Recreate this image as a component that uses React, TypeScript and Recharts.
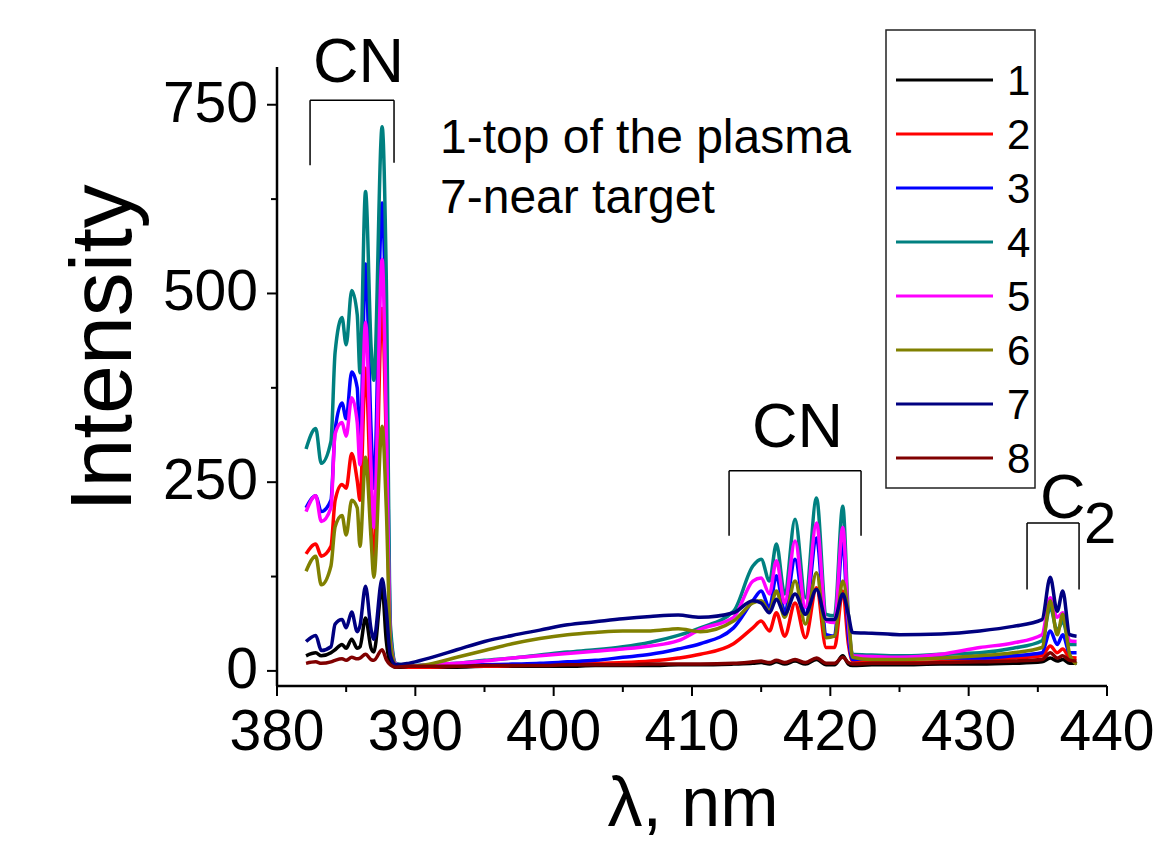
import React from 'react';
import { LineChart, Line, XAxis, YAxis, ReferenceLine } from 'recharts';

const FONT = '"Liberation Sans", Arial, Helvetica, sans-serif';

// wavelength grid, nm
const WL = [
  382.1, 382.8, 383.2, 383.9, 384.2, 384.7, 385.0, 385.4, 385.8, 386.0,
  386.4, 386.8, 387.0, 387.6, 387.9, 388.2, 388.6, 389.5, 391, 393,
  395, 397, 399, 401, 403, 405, 407, 409, 410.6, 413.0,
  414.4, 415.0, 415.6, 416.1, 416.7, 417.45, 418.2, 419.0, 419.7, 420.3,
  420.9, 421.3, 421.6, 423, 425, 428, 430.8, 433.2, 435.3, 435.9,
  436.4, 436.8, 437.3, 437.8,
];

const S1 = [
  20, 24, 20, 24, 28, 35, 30, 42, 30, 32,
  70, 30, 25, 110, 40, 10, 5, 5, 5, 5,
  6, 6, 6, 6, 7, 7, 7, 8, 8, 9,
  10, 11, 9, 12, 9, 13, 9, 15, 8, 8,
  20, 9, 7, 8, 8, 9, 9, 10, 12, 17,
  13, 15, 10, 10,
];
const S2 = [
  155, 168, 152, 165, 226, 247, 242, 288, 252, 226,
  401, 216, 139, 480, 300, 35, 8, 5, 5, 6,
  6, 7, 8, 9, 10, 11, 13, 17, 22, 36,
  57, 66, 53, 77, 46, 90, 44, 110, 31, 31,
  106, 36, 13, 12, 11, 12, 15, 17, 20, 33,
  24, 29, 18, 17,
];
const S3 = [
  216, 232, 211, 226, 319, 355, 334, 396, 375, 293,
  539, 319, 242, 620, 420, 50, 9, 6, 6, 7,
  8, 9, 10, 12, 14, 18, 22, 29, 36, 57,
  93, 106, 84, 126, 79, 148, 75, 176, 48, 46,
  172, 48, 15, 17, 18, 17, 17, 20, 24, 53,
  35, 48, 24, 24,
];
const S4 = [
  294, 321, 275, 304, 422, 468, 432, 504, 472, 395,
  635, 430, 385, 721, 520, 60, 10, 7, 8, 10,
  14, 17, 21, 25, 28, 32, 38, 47, 57, 79,
  139, 148, 119, 168, 102, 201, 97, 229, 75, 73,
  218, 75, 22, 21, 20, 22, 24, 30, 40, 84,
  53, 66, 35, 35,
];
const S5 = [
  211, 232, 198, 216, 314, 329, 311, 362, 329, 273,
  462, 268, 190, 545, 330, 40, 9, 6, 8, 10,
  13, 17, 20, 23, 26, 29, 33, 40, 55, 71,
  119, 123, 102, 146, 90, 172, 84, 196, 66, 64,
  190, 66, 20, 19, 18, 22, 31, 37, 48, 97,
  71, 77, 40, 39,
];
const S6 = [
  132, 152, 114, 139, 191, 206, 180, 226, 216, 165,
  283, 175, 124, 324, 216, 37, 8, 6, 9, 18,
  27, 36, 43, 48, 51, 53, 53, 56, 52, 66,
  90, 93, 79, 106, 71, 119, 62, 130, 44, 46,
  119, 75, 18, 15, 15, 17, 20, 24, 31, 93,
  48, 75, 22, 9,
];
const S7 = [
  39, 47, 27, 32, 62, 68, 57, 78, 52, 60,
  112, 55, 42, 122, 80, 20, 8, 10, 17, 28,
  39, 47, 54, 61, 65, 69, 72, 74, 71, 77,
  93, 90, 77, 95, 75, 102, 75, 108, 68, 68,
  102, 75, 51, 50, 48, 49, 53, 59, 68, 124,
  79, 106, 48, 46,
];
const S8 = [
  10, 12, 10, 12, 14, 16, 14, 18, 16, 17,
  22, 15, 14, 28, 15, 8, 5, 6, 6, 6,
  7, 7, 7, 8, 8, 8, 9, 9, 9, 10,
  12, 13, 11, 14, 11, 15, 11, 17, 10, 10,
  18, 11, 9, 10, 10, 11, 12, 13, 15, 24,
  17, 20, 14, 13,
];

const SERIES = [
  { key: 's1', name: '1', color: '#000000', values: S1 },
  { key: 's2', name: '2', color: '#ff0000', values: S2 },
  { key: 's3', name: '3', color: '#0000ff', values: S3 },
  { key: 's4', name: '4', color: '#008080', values: S4 },
  { key: 's5', name: '5', color: '#ff00ff', values: S5 },
  { key: 's6', name: '6', color: '#808000', values: S6 },
  { key: 's7', name: '7', color: '#000080', values: S7 },
  { key: 's8', name: '8', color: '#800000', values: S8 },
];

const X_TICKS = [380, 385, 390, 395, 400, 405, 410, 415, 420, 425, 430, 435, 440];
const Y_TICKS = [0, 125, 250, 375, 500, 625, 750];

// band brackets: [left nm, right nm, top, left foot, right foot]
const BRACKETS = [
  [382.39, 388.46, 756, 670, 673],
  [412.68, 422.22, 265, 179, 179],
  [434.22, 437.98, 196, 108, 108],
];

const data = WL.map((wl, i) => {
  const row: any = { wl };
  SERIES.forEach((s) => { row[s.key] = s.values[i]; });
  return row;
});

const XTick = (props: any) => {
  const { x, y, payload } = props;
  const major = payload.value % 10 === 0;
  return (
    <g>
      <line x1={x} y1={y} x2={x} y2={y + (major ? 10 : 6)} stroke="#000" strokeWidth={2} />
      {major && (
        <text x={x} y={y + 64} textAnchor="middle" fontSize={57} fontFamily={FONT} fill="#000">
          {payload.value}
        </text>
      )}
    </g>
  );
};

const YTick = (props: any) => {
  const { x, y, payload } = props;
  const major = payload.value % 250 === 0;
  return (
    <g>
      <line x1={x} y1={y} x2={x - (major ? 10 : 6)} y2={y} stroke="#000" strokeWidth={2} />
      {major && (
        <text x={x - 19} y={y + 17} textAnchor="end" fontSize={57} fontFamily={FONT} fill="#000">
          {payload.value}
        </text>
      )}
    </g>
  );
};

export default function App() {
  return (
    <div style={{ position: 'absolute', left: 0, top: 0, width: 1170, height: 841, background: '#fff' }}>
      <LineChart width={1170} height={841} data={data} margin={{ top: 67, right: 63, bottom: 75, left: 0 }}>
        <XAxis
          dataKey="wl"
          type="number"
          domain={[380, 440]}
          ticks={X_TICKS}
          interval={0}
          height={80}
          tickSize={0}
          tickMargin={0}
          tick={<XTick />}
          axisLine={{ stroke: '#000', strokeWidth: 2.5 }}
          allowDataOverflow
        />
        <YAxis
          type="number"
          domain={[-20, 800]}
          ticks={Y_TICKS}
          interval={0}
          width={277}
          tickSize={0}
          tickMargin={0}
          tick={<YTick />}
          axisLine={{ stroke: '#000', strokeWidth: 2.5 }}
          allowDataOverflow
        />
        {BRACKETS.map(([x1, x2, top, fl, fr], i) => (
          <React.Fragment key={`br-${i}`}>
            <ReferenceLine segment={[{ x: x1, y: fl }, { x: x1, y: top }]} stroke="#000" strokeWidth={1.5} />
            <ReferenceLine segment={[{ x: x1, y: top }, { x: x2, y: top }]} stroke="#000" strokeWidth={1.5} />
            <ReferenceLine segment={[{ x: x2, y: top }, { x: x2, y: fr }]} stroke="#000" strokeWidth={1.5} />
          </React.Fragment>
        ))}
        {SERIES.map((s) => (
          <Line
            key={s.key}
            dataKey={s.key}
            name={s.name}
            stroke={s.color}
            strokeWidth={3.5}
            strokeLinejoin="round"
            dot={false}
            type="monotone"
            isAnimationActive={false}
          />
        ))}
      </LineChart>
      <svg
        width={1170}
        height={841}
        style={{ position: 'absolute', left: 0, top: 0, pointerEvents: 'none' }}
        fontFamily={FONT}
      >
        <text x={100} y={348} fontSize={88} textAnchor="middle" dominantBaseline="central" transform="rotate(-90 100 348)">
          Intensity
        </text>
        <text x={693} y={826} fontSize={70} textAnchor="middle">λ, nm</text>
        <text x={313} y={82} fontSize={63}>CN</text>
        <text x={752} y={447} fontSize={63}>CN</text>
        <text x={1040} y={518} fontSize={63}>C</text>
        <text x={1084} y={543} fontSize={58}>2</text>
        <text x={440} y={153} fontSize={48}>1-top of the plasma</text>
        <text x={440} y={213} fontSize={48}>7-near target</text>
        <rect x={886} y={30} width={149} height={458} fill="#fff" stroke="#222" strokeWidth={1.5} />
        {SERIES.map((s, i) => {
          const cy = 80 + i * 54;
          return (
            <g key={`lg-${s.key}`}>
              <line x1={896} x2={993} y1={cy} y2={cy} stroke={s.color} strokeWidth={3} />
              <text x={1007} y={cy + 15} fontSize={42}>{s.name}</text>
            </g>
          );
        })}
      </svg>
    </div>
  );
}
